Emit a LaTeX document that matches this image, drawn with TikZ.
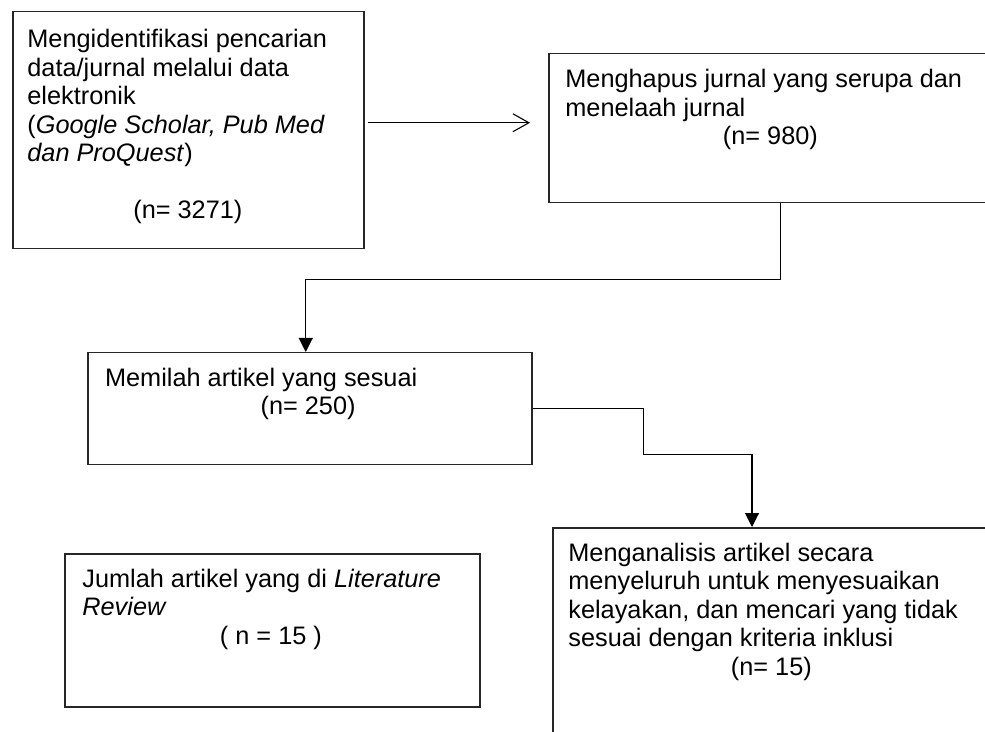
\documentclass[tikz,border=0pt]{standalone}
\usepackage{fontspec}
\setmainfont{Liberation Sans}
\usetikzlibrary{calc,positioning,arrows.meta}
\tikzset{
  kotak/.style={draw=black!85, line width=0.75pt, anchor=north west, inner sep=0pt},
  isi/.style={anchor=north west, inner sep=0pt,
              font=\fontsize{12.65pt}{14.25pt}\selectfont},
  garis/.style={line width=0.55pt},
  panah/.style={garis, -{Straight Barb[length=8pt,width=9pt]}},
  panahpenuh/.style={garis, -{Triangle[length=7pt,width=7pt]}},
}

\begin{document}
\begin{tikzpicture}[x=0.5pt,y=-0.5pt]
  \useasboundingbox (0,0) rectangle (985,732);
  \fill[white] (0,0) rectangle (985,732);
  \clip (0,0) rectangle (985,732);

  \node[kotak, minimum width=175.5pt, minimum height=118.5pt] at (12,11) (cari) {};
  \node[kotak, minimum width=232pt, minimum height=74.5pt] at (548,53) (hapus) {};
  \node[kotak, minimum width=222pt, minimum height=56pt] at (87,352) (pilah) {};
  \node[kotak, minimum width=274pt, minimum height=136.5pt] at (552,527) (analisis) {};
  \node[kotak, minimum width=207.5pt, minimum height=76.5pt] at (64,553) (jumlah) {};

  \node[isi, below right=9pt and 7.5pt of cari.north west] (cari-t)
    {\begin{minipage}[t]{160.5pt}\raggedright
     Mengidentifikasi pencarian\\ data/jurnal melalui data\\ elektronik\\
     (\textit{Google Scholar, Pub Med}\\ \textit{dan ProQuest})\par\vspace{14.25pt}
     \centering (n= 3271)\end{minipage}};
  \node[isi, below right=8pt and 8.5pt of hapus.north west] (hapus-t)
    {\begin{minipage}[t]{205pt}\raggedright
     Menghapus jurnal yang serupa dan\\ menelaah jurnal\par
     \centering (n= 980)\end{minipage}};
  \node[isi, below right=7.75pt and 8.85pt of pilah.north west] (pilah-t)
    {\begin{minipage}[t]{203pt}\raggedright
     Memilah artikel yang sesuai\par
     \centering (n= 250)\end{minipage}};
  \node[isi, below right=7.8pt and 8pt of analisis.north west] (analisis-t)
    {\begin{minipage}[t]{203pt}\raggedright
     Menganalisis artikel secara\\ menyeluruh untuk menyesuaikan\\
     kelayakan, dan mencari yang tidak\\ sesuai dengan kriteria inklusi\par
     \centering (n= 15)\end{minipage}};
  \node[isi, below right=7.8pt and 9pt of jumlah.north west] (jumlah-t)
    {\begin{minipage}[t]{188.5pt}\raggedright
     Jumlah artikel yang di \textit{Literature}\\ \textit{Review}\par
     \centering ( n = 15 )\end{minipage}};

  \draw[panah] ($(cari.east)+(3,-7.5)$) -- ($(hapus.west)+(-18,-5.5)$);
  \draw[panahpenuh] (hapus.south) -- ++(0,76) -| ($(pilah.north)+(-4,0)$);
  \draw[panahpenuh] (pilah.east) -| ++(111,46) -| ($(analisis.north west)+(200,0)$);
\end{tikzpicture}
\end{document}
